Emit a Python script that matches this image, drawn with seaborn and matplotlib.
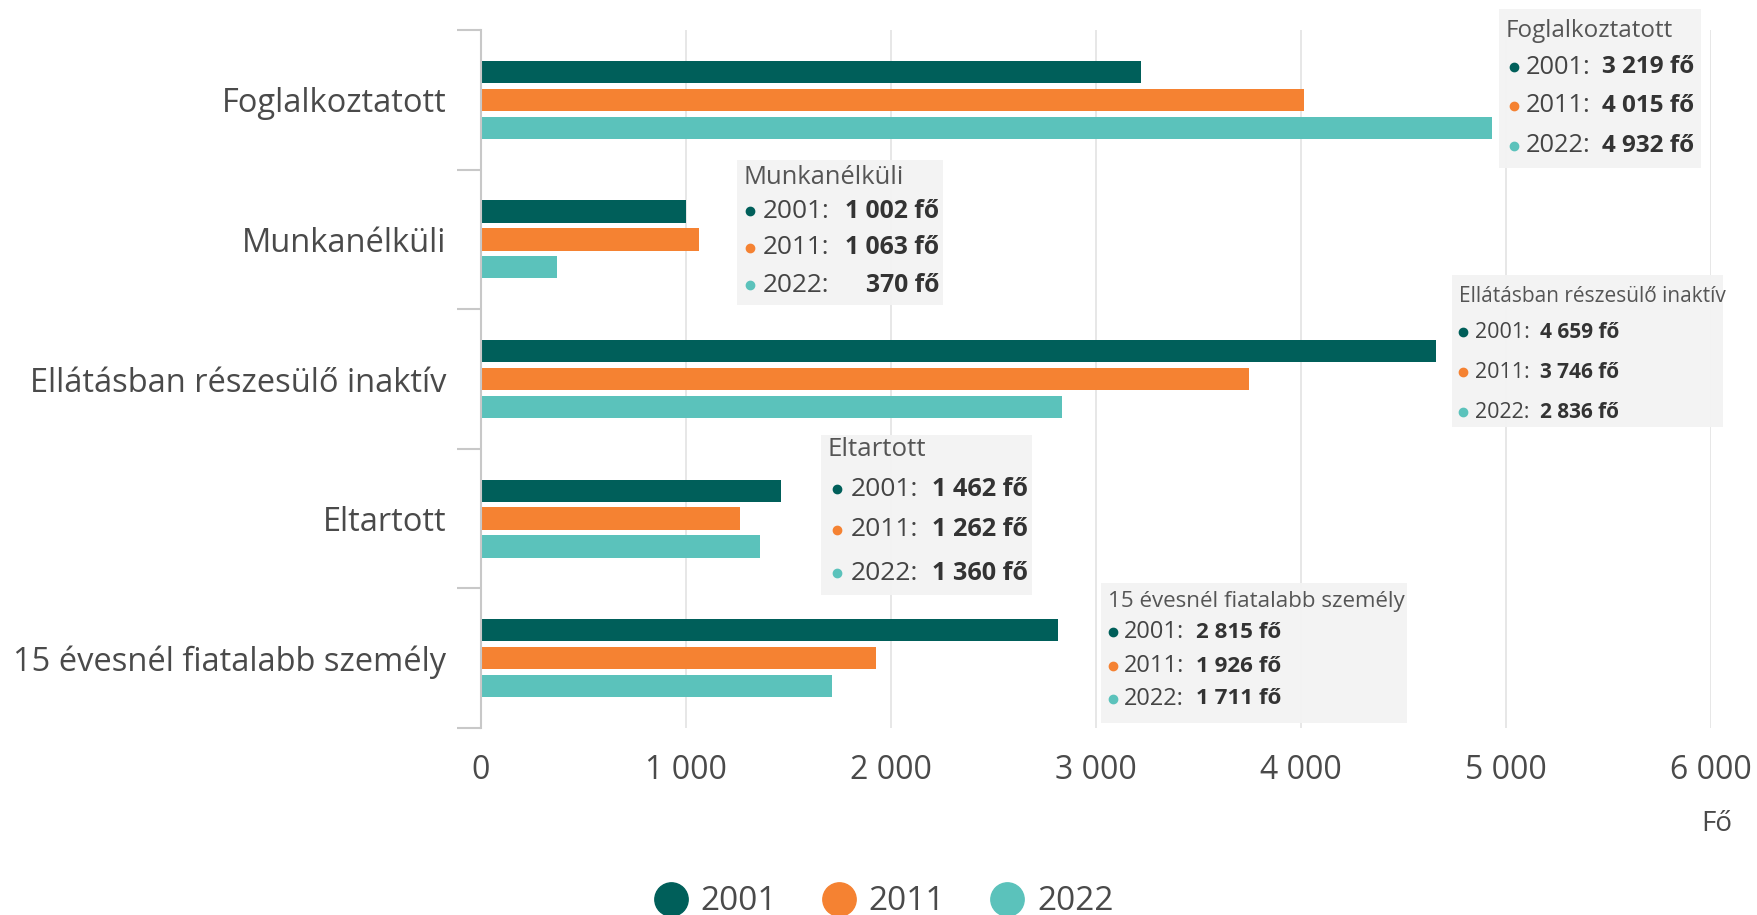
import matplotlib
matplotlib.use("Agg")
import matplotlib.pyplot as plt
import seaborn as sns
import pandas as pd
from matplotlib.lines import Line2D
from matplotlib.patches import Rectangle

categories = ["Foglalkoztatott", "Munkanélküli", "Ellátásban részesülő inaktív",
              "Eltartott", "15 évesnél fiatalabb személy"]
years = ["2001", "2011", "2022"]
v2001 = [3219, 1002, 4659, 1462, 2815]
v2011 = [4015, 1063, 3746, 1262, 1926]
v2022 = [4932, 370, 2836, 1360, 1711]
xticks = [0, 1000, 2000, 3000, 4000, 5000, 6000]
xtick_labels = ["0", "1 000", "2 000", "3 000", "4 000", "5 000", "6 000"]
colors = ["#005f5a", "#f58232", "#5bc2bb"]
unit_label = "Fő"

sns.set_theme(style="white")
plt.rcParams["font.family"] = ["Open Sans", "DejaVu Sans"]

rows = []
for yr, vals in zip(years, [v2001, v2011, v2022]):
    for c, v in zip(categories, vals):
        rows.append({"Kategória": c, "Év": yr, "Fő": v})
df = pd.DataFrame(rows)

W, H = 1757, 915
fig = plt.figure(figsize=(W / 100, H / 100), dpi=100)
ax = fig.add_axes([481 / W, 1 - 728 / H, (1711 - 481) / W, (728 - 30) / H])

sns.barplot(data=df, y="Kategória", x="Fő", hue="Év", palette=colors,
            orient="h", width=0.6, gap=0.2, linewidth=0, saturation=1,
            ax=ax, legend=False, errorbar=None, zorder=3)

text_col = "#4a4a4a"
ax.set_xlim(0, 6000)
ax.set_ylim(len(categories) - 0.5, -0.5)
ax.set_xticks(xticks)
ax.set_xticklabels(xtick_labels, fontsize=23, color=text_col)
ax.tick_params(axis="x", length=0, pad=19)
ax.set_yticks(range(len(categories)))
ax.set_yticklabels(categories, fontsize=23.5, color=text_col)
ax.tick_params(axis="y", which="major", length=0, pad=25)
ax.set_yticks([i - 0.5 for i in range(len(categories) + 1)], minor=True)
ax.tick_params(axis="y", which="minor", length=17, width=1.5, color="#c8c8c8", left=True)
ax.set_xlabel("")
ax.set_ylabel("")
for s in ["top", "right", "bottom"]:
    ax.spines[s].set_visible(False)
ax.spines["left"].set_color("#c8c8c8")
ax.spines["left"].set_linewidth(1.5)
ax.spines["left"].set_zorder(4)
ax.grid(axis="x", color="#e3e3e3", linewidth=1.2, zorder=0)
ax.set_axisbelow(True)

fig.text(1717 / W, 1 - 824 / H, unit_label, ha="center", va="center",
         fontsize=20, color=text_col)

handles = [Line2D([0], [0], marker="o", linestyle="none", markersize=24,
                  markerfacecolor=c, markeredgecolor=c) for c in colors]
fig.legend(handles, years, loc="center", bbox_to_anchor=(0.503, 1 - 902 / H),
           ncol=3, frameon=False, fontsize=24, handletextpad=0.4,
           handlelength=1.0, columnspacing=1.35, labelcolor=text_col)


def fmt(v):
    return f"{v:,}".replace(",", " ") + " fő"


# tooltip boxes: (category index, box, title y, row ys, dot x, year x, value right x,
#                 title fs, year fs, value fs)
tips = [
    (0, (1499, 9, 1701, 168), 31, (67, 106, 146), 1514, 1526, 1694, 17.4, 18.3, 17.5),
    (1, (737, 160, 943, 305), 177, (211, 248, 285), 750, 763, 939, 18.4, 18.9, 17.8),
    (2, (1452, 275, 1723, 427), 296, (332, 372, 412), 1463, 1475, 1619, 15, 15.5, 15),
    (3, (821, 435, 1032, 595), 450, (489, 530, 573), 837, 851, 1028, 18.6, 19, 18.2),
    (4, (1101, 583, 1407, 723), 601, (632, 666, 699), 1113, 1124, 1281, 16.1, 17, 16.1),
]
series = [v2001, v2011, v2022]


def fx(x):
    return x / W


def fy(y):
    return 1 - y / H


for ci, (x0, y0, x1, y1), ty, rys, dx, yx, vx, tfs, yfs, vfs in tips:
    fig.patches.append(Rectangle((fx(x0), fy(y1)), fx(x1 - x0), (y1 - y0) / H,
                                 transform=fig.transFigure, facecolor="#f3f3f3",
                                 edgecolor="none", alpha=0.95, zorder=10))
    fig.text(fx(x0 + 7), fy(ty), categories[ci], fontsize=tfs, color="#555555",
             ha="left", va="center", zorder=11)
    for k, ry in enumerate(rys):
        fig.lines.append(Line2D([fx(dx)], [fy(ry)], marker="o", markersize=6,
                                color=colors[k], linestyle="none",
                                transform=fig.transFigure, zorder=11))
        fig.text(fx(yx), fy(ry), years[k] + ":", fontsize=yfs, color="#444444",
                 ha="left", va="center", zorder=11)
        fig.text(fx(vx), fy(ry), fmt(series[k][ci]), fontsize=vfs, color="#333333",
                 fontweight="bold", ha="right", va="center", zorder=11)

fig.savefig("out.png", dpi=100)
